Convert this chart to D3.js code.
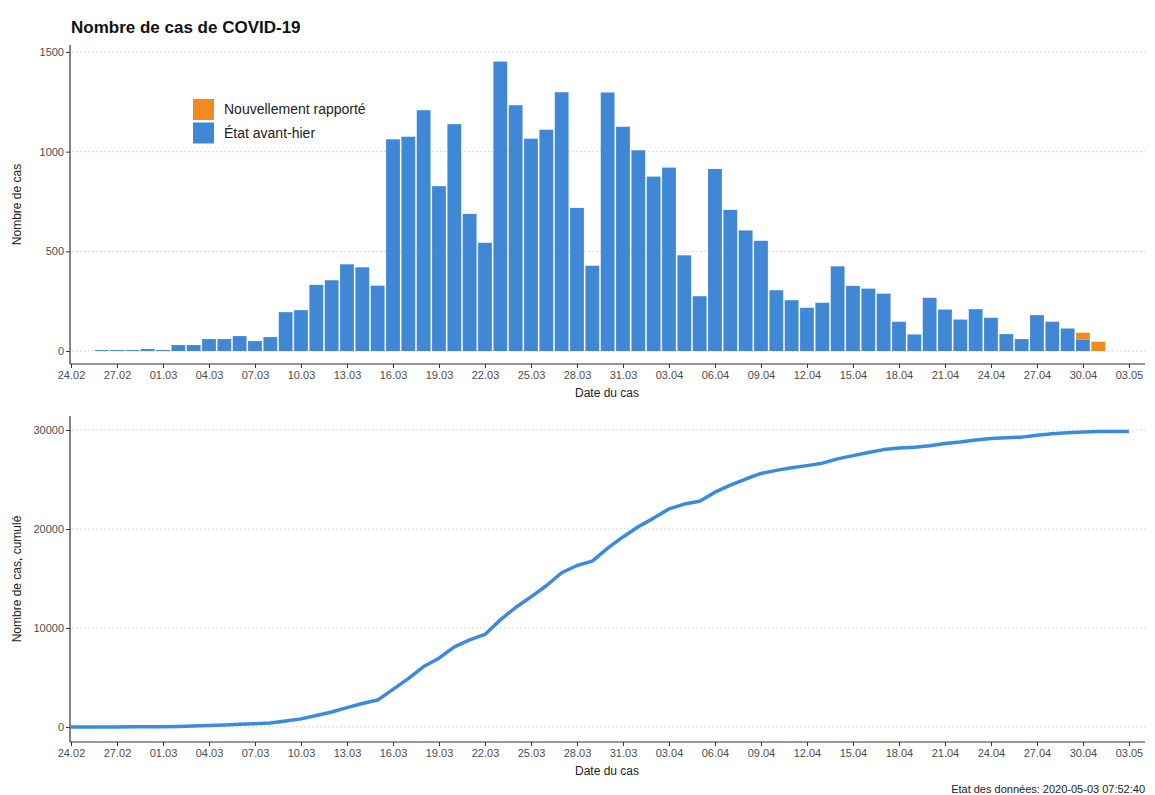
<!DOCTYPE html>
<html>
<head>
<meta charset="utf-8">
<script src="https://cdn.jsdelivr.net/npm/d3@7"></script>
<style>
    body { margin: 0; background: #fff; }
    text { font-family: "Liberation Sans", Arial, sans-serif; }
</style>
</head>
<body>
<svg id="drawing_region"></svg>
<script>
// tick labels of both x axes
const tickLabels = ["24.02","27.02","01.03","04.03","07.03","10.03","13.03","16.03","19.03","22.03",
    "25.03","28.03","31.03","03.04","06.04","09.04","12.04","15.04","18.04","21.04",
    "24.04","27.04","30.04","03.05"];

// daily bars, one per day starting 26.02
const barStart = "2020-02-26";
const etatAvantHier = [5,5,5,10,5,30,30,60,60,75,50,70,195,205,332,355,435,420,328,
    1062,1075,1208,827,1138,688,543,1452,1233,1065,1110,1298,718,428,
    1297,1125,1007,875,920,480,275,913,708,605,553,305,255,217,242,
    425,327,313,288,147,83,267,208,158,210,167,85,60,180,147,113,58,0];
const nouvellementRapporte = [0,0,0,0,0,0,0,0,0,0,0,0,0,0,0,0,0,0,0,
    0,0,0,0,0,0,0,0,0,0,0,0,0,0,
    0,0,0,0,0,0,0,0,0,0,0,0,0,0,0,
    0,0,0,0,0,0,0,0,0,0,0,0,0,0,0,0,34,47];

// cumulative line, one per day starting 24.02
const cumStart = "2020-02-24";
const cumule = [0,0,5,10,15,25,30,60,90,150,210,290,340,410,610,820,1160,1520,1960,2380,
    2720,3800,4890,6110,6950,8100,8800,9350,10820,12070,13150,14270,15580,16310,16750,
    18060,19200,20220,21100,22030,22520,22800,23720,24440,25050,25610,25920,26180,26400,
    26650,27080,27410,27730,28020,28170,28250,28420,28630,28790,29000,29130,29220,29280,
    29480,29620,29720,29800,29840,29850,29850];

const legendLabels = ["Nouvellement rapporté", "État avant-hier"];
const colors = { orange: "#f28b1f", blue: "#4088d5", line: "#3a8be0" };

const W = 1155, H = 795;
const parseDay = d3.timeParse("%Y-%m-%d");
const parseTick = d3.timeParse("%d.%m.%Y");

const svg = d3.select("#drawing_region")
    .attr("width", W)
    .attr("height", H);

const x = d3.scaleTime()
    .domain([parseDay("2020-02-24"), parseDay("2020-05-04")])
    .range([71, 1144.3]);

const tickDates = tickLabels.map(l => parseTick(l + ".2020"));

function drawFrame(y, yTicks, yTitle, top, bottom) {
    // dotted gridlines
    svg.append("g")
        .selectAll("line")
        .data(yTicks)
        .enter()
        .append("line")
        .attr("x1", 72).attr("x2", 1145)
        .attr("y1", d => y(d)).attr("y2", d => y(d))
        .attr("stroke", "#cfcfcf")
        .attr("stroke-width", 1)
        .attr("stroke-dasharray", "1.5,2.5");

    const yAxis = svg.append("g")
        .attr("transform", "translate(70,0)")
        .call(d3.axisLeft(y).tickValues(yTicks).tickSize(4).tickPadding(2).tickFormat(d3.format("d")));
    yAxis.select(".domain").remove();
    yAxis.append("line")
        .attr("y1", top).attr("y2", bottom)
        .attr("stroke", "#333").attr("stroke-width", 1.2);

    const xAxis = svg.append("g")
        .attr("transform", `translate(0,${bottom})`)
        .call(d3.axisBottom(x).tickValues(tickDates).tickSize(4).tickPadding(3)
            .tickFormat((d, i) => tickLabels[i]));
    xAxis.select(".domain").remove();
    xAxis.append("line")
        .attr("x1", 70).attr("x2", 1145)
        .attr("stroke", "#333").attr("stroke-width", 1.2);

    svg.selectAll(".tick text")
        .attr("font-size", "11px")
        .attr("fill", "#4d4d4d");
    svg.selectAll(".tick line")
        .attr("stroke", "#333");

    svg.append("text")
        .attr("x", 607)
        .attr("y", bottom + 33)
        .attr("font-size", "12px")
        .attr("fill", "#222")
        .attr("text-anchor", "middle")
        .text("Date du cas");

    svg.append("text")
        .attr("transform", `translate(21,${(top + bottom) / 2}) rotate(-90)`)
        .attr("font-size", "12px")
        .attr("fill", "#222")
        .attr("text-anchor", "middle")
        .text(yTitle);
}

// ---------- top panel: daily cases ----------
const yTop = d3.scaleLinear().domain([-65, 1535]).range([364, 45]);
drawFrame(yTop, [0, 500, 1000, 1500], "Nombre de cas", 45, 364);

const bars = etatAvantHier.map((v, i) => ({
    date: d3.timeDay.offset(parseDay(barStart), i),
    blue: v,
    orange: nouvellementRapporte[i]
}));
const bw = 13.8;

svg.append("g")
    .selectAll("rect")
    .data(bars.filter(d => d.blue > 0))
    .enter()
    .append("rect")
    .attr("x", d => x(d.date) - bw / 2)
    .attr("width", bw)
    .attr("y", d => yTop(d.blue))
    .attr("height", d => yTop(0) - yTop(d.blue))
    .attr("fill", colors.blue);

svg.append("g")
    .selectAll("rect")
    .data(bars.filter(d => d.orange > 0))
    .enter()
    .append("rect")
    .attr("x", d => x(d.date) - bw / 2)
    .attr("width", bw)
    .attr("y", d => yTop(d.blue + d.orange))
    .attr("height", d => yTop(d.blue) - yTop(d.blue + d.orange))
    .attr("fill", colors.orange);

// legend
const legend = svg.append("g").attr("transform", "translate(193,99)");
legend.selectAll("rect")
    .data(legendLabels)
    .enter()
    .append("rect")
    .attr("x", 0)
    .attr("y", (d, i) => i * 23.5)
    .attr("width", 21)
    .attr("height", 21)
    .attr("fill", (d, i) => i === 0 ? colors.orange : colors.blue);
legend.selectAll("text")
    .data(legendLabels)
    .enter()
    .append("text")
    .attr("x", 31)
    .attr("y", (d, i) => i * 23.5 + 15)
    .attr("font-size", "14px")
    .attr("fill", "#222")
    .text(d => d);

// ---------- bottom panel: cumulative ----------
const yBot = d3.scaleLinear().domain([-1515, 31414]).range([742, 416]);
drawFrame(yBot, [0, 10000, 20000, 30000], "Nombre de cas, cumulé", 416, 742);

const line = d3.line()
    .x((d, i) => x(d3.timeDay.offset(parseDay(cumStart), i)))
    .y(d => yBot(d));

svg.append("path")
    .datum(cumule)
    .attr("d", line)
    .attr("fill", "none")
    .attr("stroke", colors.line)
    .attr("stroke-width", 3.5)
    .attr("stroke-linejoin", "round");

// title and footer
svg.append("text")
    .attr("x", 71)
    .attr("y", 33)
    .attr("font-size", "17px")
    .attr("font-weight", 700)
    .attr("fill", "#111")
    .text("Nombre de cas de COVID-19");

svg.append("text")
    .attr("x", 1145)
    .attr("y", 793)
    .attr("font-size", "11px")
    .attr("fill", "#222")
    .attr("text-anchor", "end")
    .text("Etat des données: 2020-05-03 07:52:40");
</script>
</body>
</html>
